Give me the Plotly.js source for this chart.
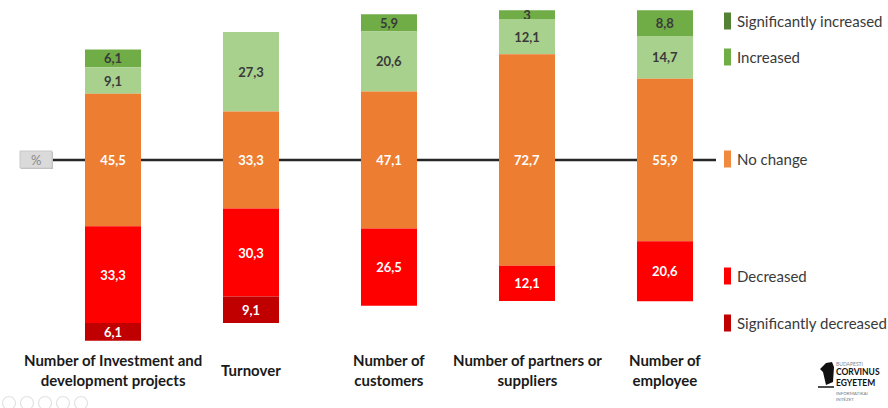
<!DOCTYPE html>
<html>
<head>
<meta charset="utf-8">
<script src="https://cdn.plot.ly/plotly-3.0.1.min.js"></script>
<style>html,body{margin:0;padding:0;background:#fff;}#chart{width:888px;height:408px;}</style>
</head>
<body>
<div id="chart"></div>
<script>
// ---- data ----
const categories = [
  'Number of Investment and<br>development projects',
  'Turnover',
  'Number of<br>customers',
  'Number of partners or<br>suppliers',
  'Number of<br>employee'
];
const significantlyIncreased = [6.1, 0, 5.9, 3, 8.8];
const increased = [9.1, 27.3, 20.6, 12.1, 14.7];
const noChange = [45.5, 33.3, 47.1, 72.7, 55.9];
const decreased = [33.3, 30.3, 26.5, 12.1, 20.6];
const significantlyDecreased = [6.1, 9.1, 0, 0, 0];
const seriesNames = ['Significantly increased', 'Increased', 'No change', 'Decreased', 'Significantly decreased'];

// ---- geometry helpers (pixels -> paper) ----
const W = 888, H = 408, MT = 5, MB = 60;
const PH = H - MT - MB;
const px = x => x / W;
const py = y => (H - MB - y) / PH;

const fmt = v => v === 0 ? '' : String(v).replace('.', ',');
const half = noChange.map(v => v / 2);

const barColors = ['#70AD47', '#A9D18E', '#ED7D31', '#FF0000', '#C00000'];
const legendColors = ['#548235', '#70AD47', '#F08A3E', '#FF0000', '#C00000'];
const textColors = ['#3a3a3a', '#3a3a3a', '#ffffff', '#ffffff', '#ffffff'];

const bases = [
  half.map((h, i) => h + increased[i]),
  half.slice(),
  half.map(h => -h),
  half.map((h, i) => -h - decreased[i]),
  half.map((h, i) => -h - decreased[i] - significantlyDecreased[i])
];
const values = [significantlyIncreased, increased, noChange, decreased, significantlyDecreased];

const xs = categories.map((c, i) => i);
const traces = values.map((vals, k) => ({
  type: 'bar',
  x: xs,
  y: vals,
  base: bases[k],
  width: 0.406,
  name: seriesNames[k],
  marker: {color: barColors[k], line: {width: 0}},
  text: vals.map(fmt),
  textposition: 'inside',
  insidetextanchor: 'middle',
  constraintext: 'none',
  textangle: 0,
  insidetextfont: {family: 'Lato, sans-serif', size: 13, color: textColors[k], weight: 'bold'},
  hoverinfo: 'skip',
  showlegend: false
}));

const annotations = [];
const shapes = [];

// category labels
categories.forEach((c, i) => {
  annotations.push({
    xref: 'x', yref: 'paper', x: i, y: py(370),
    text: c, showarrow: false, xanchor: 'center', yanchor: 'middle',
    font: {family: 'Lato, sans-serif', size: 15, color: '#1a1a1a', weight: 'bold'}
  });
});

// zero line
shapes.push({type: 'line', xref: 'paper', yref: 'y', x0: px(52), x1: px(716), y0: 0, y1: 0,
  line: {color: '#262626', width: 2.5}, layer: 'below'});
// % box
shapes.push({type: 'rect', xref: 'paper', yref: 'paper', x0: px(21), x1: px(53), y0: py(169), y1: py(152),
  fillcolor: '#bdbdbd', line: {width: 0}, layer: 'above'});
shapes.push({type: 'rect', xref: 'paper', yref: 'paper', x0: px(20), x1: px(52), y0: py(168), y1: py(151),
  fillcolor: '#dadada', line: {color: '#c8c8c8', width: 1}, layer: 'above'});
annotations.push({xref: 'paper', yref: 'paper', x: px(36), y: py(160), text: '%', showarrow: false,
  xanchor: 'center', yanchor: 'middle', font: {family: 'Lato, sans-serif', size: 13, color: '#8a8a8a'}});

// custom legend
const legendY = [21, 57, 159, 276, 323];
seriesNames.forEach((n, k) => {
  shapes.push({type: 'rect', xref: 'paper', yref: 'paper', x0: px(724), x1: px(731),
    y0: py(legendY[k] + 8.5), y1: py(legendY[k] - 8.5), fillcolor: legendColors[k], line: {width: 0}});
  annotations.push({xref: 'paper', yref: 'paper', x: px(735), y: py(legendY[k]), text: n, showarrow: false,
    xanchor: 'left', yanchor: 'middle', font: {family: 'Lato, sans-serif', size: 15, color: '#3a3a3a'}});
});

// logo
shapes.push({type: 'path', xref: 'paper', yref: 'paper',
  path: 'M ' + px(826) + ' ' + py(363) + ' L ' + px(832) + ' ' + py(362) + ' L ' + px(834) + ' ' + py(367) +
        ' L ' + px(833) + ' ' + py(382) + ' L ' + px(826) + ' ' + py(385) + ' L ' + px(823) + ' ' + py(372) +
        ' L ' + px(820) + ' ' + py(369) + ' Z',
  fillcolor: '#111111', line: {width: 0}});
shapes.push({type: 'line', xref: 'paper', yref: 'paper', x0: px(818), x1: px(834), y0: py(387), y1: py(387),
  line: {color: '#111111', width: 1.5}});
const logo = [
  {t: 'BUDAPESTI', y: 364, s: 5, c: '#888', w: 'normal'},
  {t: 'CORVINUS<br>EGYETEM', y: 377, s: 8.5, c: '#111', w: 'bold'},
  {t: 'INFORMATIKAI<br>INTÉZET', y: 396, s: 4.5, c: '#777', w: 'normal'}
];
logo.forEach(l => annotations.push({xref: 'paper', yref: 'paper', x: px(835), y: py(l.y), text: l.t,
  showarrow: false, xanchor: 'left', yanchor: 'middle', align: 'left', borderpad: 0,
  font: {family: 'Lato, sans-serif', size: l.s, color: l.c, weight: l.w}}));

// faint slideshow controls (bottom-left)
[9, 27, 45, 63, 81].forEach(cx => shapes.push({type: 'circle', xref: 'paper', yref: 'paper',
  x0: px(cx - 6.5), x1: px(cx + 6.5), y0: py(409.5), y1: py(396.5), line: {color: '#e2e2e2', width: 1.2}}));

const layout = {
  width: W, height: H,
  margin: {l: 0, r: 0, t: MT, b: MB, pad: 0},
  paper_bgcolor: '#ffffff', plot_bgcolor: 'rgba(0,0,0,0)',
  barmode: 'overlay',
  showlegend: false,
  xaxis: {range: [-113 / 138, (W - 113) / 138], showticklabels: false, showgrid: false, zeroline: false, showline: false, ticks: ''},
  yaxis: {range: [-(348 - 160) / 2.91, (160 - MT) / 2.91], showticklabels: false, showgrid: false, zeroline: false, showline: false, ticks: ''},
  shapes: shapes,
  annotations: annotations
};

Plotly.newPlot('chart', traces, layout, {displayModeBar: false, staticPlot: true});
</script>
</body>
</html>
